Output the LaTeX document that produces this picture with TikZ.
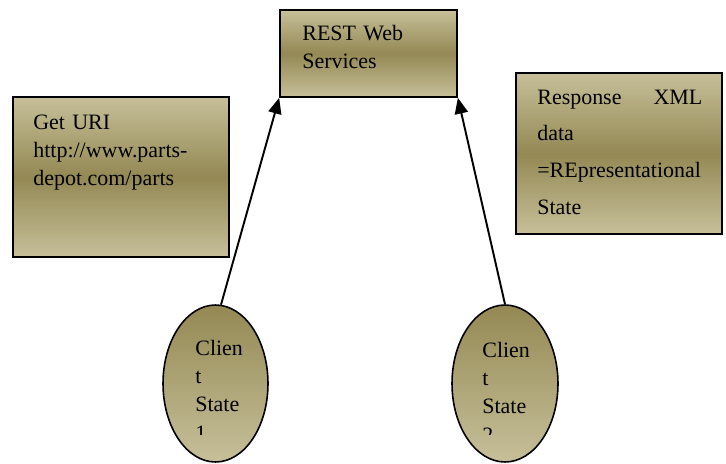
\documentclass[tikz,border=0pt]{standalone}
\usepackage{fontspec}
\setmainfont{Liberation Serif}
\usetikzlibrary{arrows.meta,shapes.geometric}
\definecolor{olivelight}{RGB}{198,191,153}
\definecolor{olivedark}{RGB}{148,137,84}
\tikzset{
  panel/.style={draw=black, line width=1pt, top color=olivelight, bottom color=olivelight,
                middle color=olivedark, inner sep=0pt},
  client/.style={ellipse, draw=black, line width=0.9pt, top color=olivedark,
                 bottom color=olivelight, inner sep=0pt, minimum width=2.1cm, minimum height=3.14cm},
  txt/.style={anchor=base west, inner sep=0pt, align=left, text width=3.4cm,
              font=\fontsize{12.5}{16.2}\selectfont},
  flow/.style={-{Triangle[length=9pt,width=7.5pt]}, line width=1.1pt, draw=black},
}

\begin{document}
\begin{tikzpicture}[x=0.02cm, y=-0.02cm]
    \useasboundingbox (0,0) rectangle (726,463);
    % boxes
    \node[panel, minimum width=3.54cm, minimum height=1.74cm] (rest) at (368.5,53.5) {};
    \node[panel, minimum width=4.32cm, minimum height=3.2cm] (geturi) at (121,177) {};
    \node[panel, minimum width=4.12cm, minimum height=3.22cm] (resp) at (619,153.5) {};
    \node[client] (client1) at (215.5,383.5) {};
    \node[client, minimum width=2.12cm] (client2) at (505,383.5) {};
    % texts
    \node[txt] (resttxt) at (302,40) {REST Web\\Services};
    \node[txt] (geturitxt) at (33,129) {Get URI\\http://www.parts-\\depot.com/parts};
    \node[txt, text width=3.3cm, font=\fontsize{12.5}{20.9}\selectfont] (resptxt) at (537,104)
        {Response\hfill XML\\data\\=REpresentational\\State};
    \begin{scope}
      \clip (0,0) rectangle (726,434);
      \node[txt, text width=1.4cm] (client1txt) at (195,355) {Clien\\t\\State\\1};
      \node[txt, text width=1.4cm] (client2txt) at (482,357) {Clien\\t\\State\\2};
    \end{scope}
    % requests
    \draw[flow] (client1.86) -- (rest.south west);
    \draw[flow] (client2.north) -- (rest.south east);
\end{tikzpicture}
\end{document}
